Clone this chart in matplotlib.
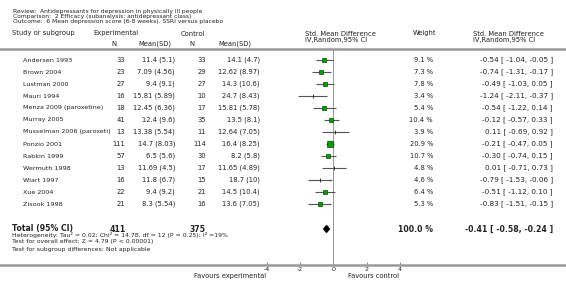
import matplotlib
matplotlib.use("Agg")
import matplotlib.pyplot as plt
from matplotlib.lines import Line2D
import numpy as np

# datos del forest plot
studies = ["Andersen 1993", "Brown 2004", "Lustman 2000", "Mauri 1994",
           "Menza 2009 (paroxetine)", "Murray 2005", "Musselman 2006 (paroxeti)",
           "Ponzio 2001", "Rabkin 1999", "Wermuth 1998", "Wiart 1997",
           "Xue 2004", "Zisook 1998"]
exp_n = [33, 23, 27, 16, 18, 41, 13, 111, 57, 13, 16, 22, 21]
exp_mean = [11.4, 7.09, 9.4, 15.81, 12.45, 12.4, 13.38, 14.7, 6.5, 11.69, 11.8, 9.4, 8.3]
exp_sd = [5.1, 4.56, 9.1, 5.89, 6.36, 9.6, 5.54, 8.03, 5.6, 4.5, 6.7, 9.2, 5.54]
ctrl_n = [33, 29, 27, 10, 17, 35, 11, 114, 30, 17, 15, 21, 16]
ctrl_mean = [14.1, 12.62, 14.3, 24.7, 15.81, 13.5, 12.64, 16.4, 8.2, 11.65, 18.7, 14.5, 13.6]
ctrl_sd = [4.7, 8.97, 10.6, 8.43, 5.78, 8.1, 7.05, 8.25, 5.8, 4.89, 10, 10.4, 7.05]
weights = [9.1, 7.3, 7.8, 3.4, 5.4, 10.4, 3.9, 20.9, 10.7, 4.8, 4.6, 6.4, 5.3]
smd = [-0.54, -0.74, -0.49, -1.24, -0.54, -0.12, 0.11, -0.21, -0.30, 0.01, -0.79, -0.51, -0.83]
ci_lo = [-1.04, -1.31, -1.03, -2.11, -1.22, -0.57, -0.69, -0.47, -0.74, -0.71, -1.53, -1.12, -1.51]
ci_hi = [-0.05, -0.17, 0.05, -0.37, 0.14, 0.33, 0.92, 0.05, 0.15, 0.73, -0.06, 0.10, -0.15]

total_exp_n = 411
total_ctrl_n = 375
total_smd = -0.41
total_lo = -0.58
total_hi = -0.24
xticks = [-4, -2, 0, 2, 4]

W, H = 566, 289
TXT = "#222222"
GRIS = "#999999"

fig = plt.figure(figsize=(W / 100, H / 100), dpi=100)
fig.patch.set_facecolor("white")


def txt(x, y, s, ha="left", size=4.9, weight="normal"):
    # coordenadas en pixeles, origen arriba a la izquierda
    fig.text(x / W, 1 - y / H, s, ha=ha, va="center", fontsize=size,
             fontweight=weight, color=TXT, family="DejaVu Sans")


def hline(y, lw=1.8):
    fig.add_artist(Line2D([0, 1], [1 - y / H, 1 - y / H], color=GRIS, lw=lw,
                          transform=fig.transFigure))


# encabezado
txt(13, 11, "Review:  Antidepressants for depression in physically ill people", size=4.3)
txt(13, 16.5, "Comparison:  2 Efficacy (subanalysis: antidepressant class)", size=4.3)
txt(13, 22, "Outcome:  6 Mean depression score (6-8 weeks). SSRI versus placebo", size=4.3)

txt(12, 33.5, "Study or subgroup")
txt(93, 33.5, "Experimental")
txt(111, 44, "N")
txt(138, 44, "Mean(SD)")
txt(181, 33.5, "Control")
txt(189, 44, "N")
txt(218, 44, "Mean(SD)")
txt(305, 33.5, "Std. Mean Difference")
txt(305, 40, "IV,Random,95% CI")
txt(413, 33.5, "Weight")
txt(473, 33.5, "Std. Mean Difference")
txt(473, 40, "IV,Random,95% CI")
hline(48.5)

# filas de estudios
for i, name in enumerate(studies):
    y = 60 + 12 * i
    txt(23, y, name, size=4.6)
    txt(125, y, f"{exp_n[i]}", ha="right")
    txt(175, y, f"{exp_mean[i]:g} ({exp_sd[i]:g})", ha="right")
    txt(206, y, f"{ctrl_n[i]}", ha="right")
    txt(260, y, f"{ctrl_mean[i]:g} ({ctrl_sd[i]:g})", ha="right")
    txt(433, y, f"{weights[i]:.1f} %", ha="right")
    txt(553, y, f"{smd[i]:.2f} [ {ci_lo[i]:.2f}, {ci_hi[i]:.2f} ]", ha="right", size=5.2)

# total
yt = 229
txt(12, yt, "Total (95% CI)", size=5.6, weight="bold")
txt(126, yt, f"{total_exp_n}", ha="right", size=5.6, weight="bold")
txt(206, yt, f"{total_ctrl_n}", ha="right", size=5.6, weight="bold")
txt(433, yt, "100.0 %", ha="right", size=5.6, weight="bold")
txt(553, yt, f"{total_smd:.2f} [ {total_lo:.2f}, {total_hi:.2f} ]", ha="right",
    size=5.6, weight="bold")
txt(12, 235.5, "Heterogeneity: Tau\u00b2 = 0.02; Chi\u00b2 = 14.78, df = 12 (P = 0.25); I\u00b2 =19%", size=4.4)
txt(12, 241.5, "Test for overall effect: Z = 4.79 (P < 0.00001)", size=4.4)
txt(12, 249, "Test for subgroup differences: Not applicable", size=4.4)

hline(264.5)

# panel del forest plot
top, bot = 49, 264.5
ax = fig.add_axes([266.7 / W, 1 - bot / H, (400 - 266.7) / W, (bot - top) / H])
ax.set_xlim(-4, 4)
ax.set_ylim((bot - 60) / 12, (top - 60) / 12)
ax.patch.set_alpha(0)
for s in ax.spines.values():
    s.set_visible(False)
ax.set_yticks([])
ax.set_xticks(xticks)
ax.set_xticklabels([str(t) for t in xticks])
ax.tick_params(axis="x", direction="in", length=2.5, width=0.6, color="#777777",
               labelsize=4.6, labelcolor=TXT, pad=2)
ax.axvline(0, color="#888888", lw=0.6)

rows = np.arange(len(studies))
ax.hlines(rows, ci_lo, ci_hi, color="#555555", lw=0.8, clip_on=False)
for i in rows:
    side = 1.31 * np.sqrt(weights[i])
    if weights[i] >= 5:
        ax.plot(smd[i], i, marker="s", ms=side * 0.72, mfc="#00a000",
                mec="#005000", mew=0.5, clip_on=False)
    else:
        ax.plot(smd[i], i, marker="|", ms=3, mec="#222222", mew=0.6, clip_on=False)

yd = (yt - 60) / 12
ax.fill([total_lo, total_smd, total_hi, total_smd],
        [yd, yd - 0.28, yd, yd + 0.28], color="black", clip_on=False)

txt(266, 276, "Favours experimental", ha="right", size=4.8)
txt(399, 276, "Favours control", ha="right", size=4.8)

fig.savefig("out.png", dpi=100, facecolor="white")
